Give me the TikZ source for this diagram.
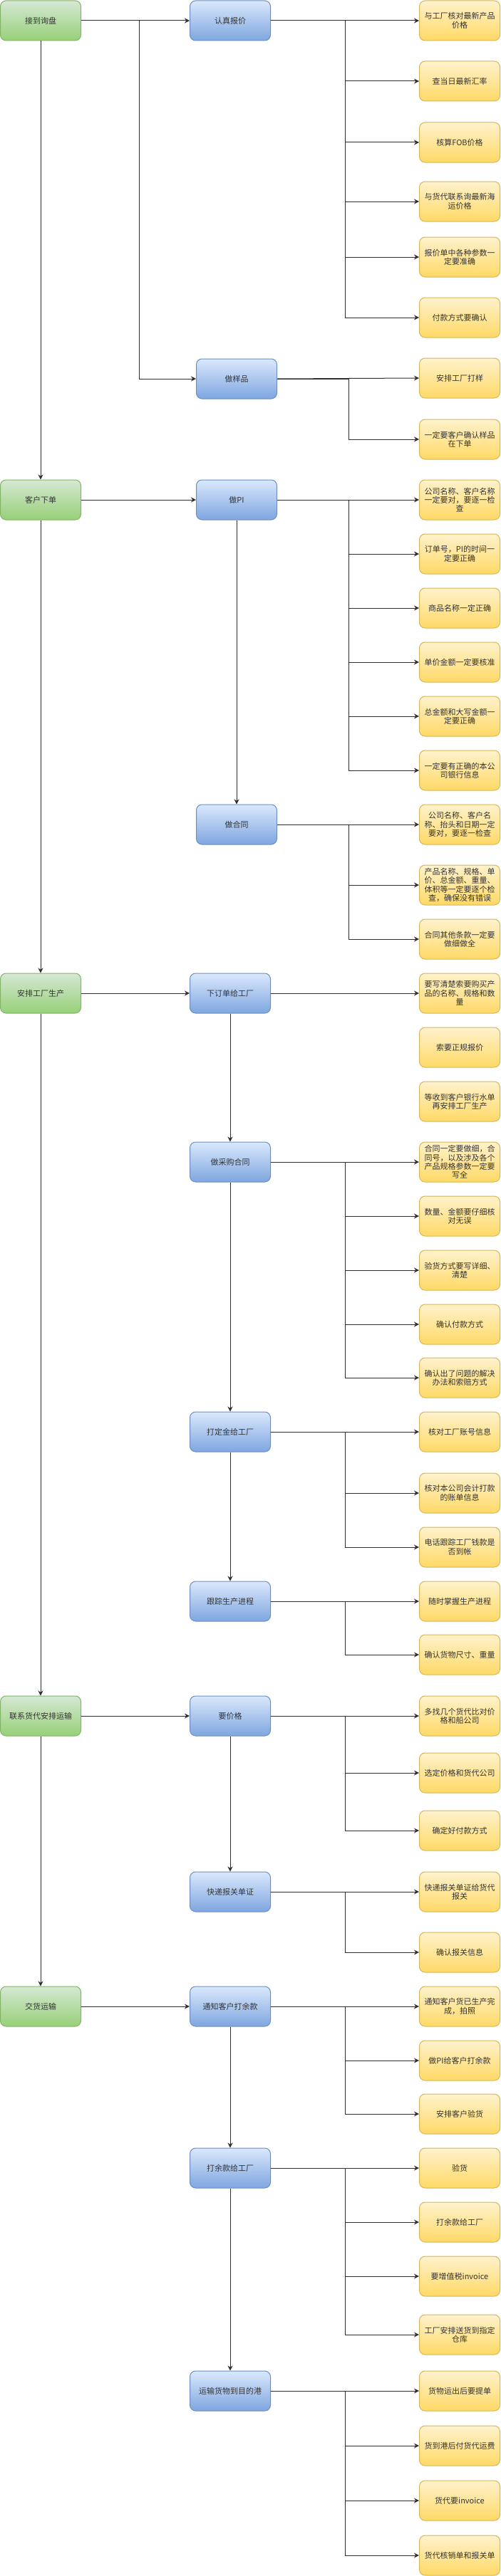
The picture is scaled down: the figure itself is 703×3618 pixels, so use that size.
\documentclass[tikz,border=0pt]{standalone}
\usepackage{fontspec}
\setmainfont{Noto Sans CJK SC}
\usetikzlibrary{arrows.meta}
\definecolor{wfink}{HTML}{333333}
\definecolor{wfline}{HTML}{2E2E2E}
\definecolor{wfgreentop}{HTML}{D5E8D4}
\definecolor{wfgreenbot}{HTML}{97D077}
\definecolor{wfgreenrim}{HTML}{82B366}
\definecolor{wfbluetop}{HTML}{DAE8FC}
\definecolor{wfbluebot}{HTML}{7EA6E0}
\definecolor{wfbluerim}{HTML}{6C8EBF}
\definecolor{wfyellowtop}{HTML}{FFF2CC}
\definecolor{wfyellowbot}{HTML}{FFD966}
\definecolor{wfyellowrim}{HTML}{D6B656}
\tikzset{
  wf box/.style={line width=1pt, rounded corners=8pt, minimum width=113pt,
    minimum height=56pt, inner sep=2pt, align=center, text=wfink,
    font=\fontsize{11}{12.4}\selectfont},
  wf stage/.style={wf box, draw=wfgreenrim, top color=wfgreentop, bottom color=wfgreenbot},
  wf task/.style={wf box, draw=wfbluerim, top color=wfbluetop, bottom color=wfbluebot},
  wf check/.style={wf box, draw=wfyellowrim, top color=wfyellowtop, bottom color=wfyellowbot},
  wf arrow/.style={-{Stealth[length=7pt,width=7pt]}, line width=1pt, draw=wfline}
}

\begin{document}
\begin{tikzpicture}[x=1pt, y=-1pt]
  \useasboundingbox (0,0) rectangle (703,3618);
  \coordinate (tG) at (195,0);
  \coordinate (tA) at (484,0);
  \coordinate (tB) at (489,0);

  \node[wf stage] (g1) at (57,29) {接到询盘};
  \node[wf stage] (g2) at (57,702) {客户下单};
  \node[wf stage] (g3) at (57,1395) {安排工厂生产};
  \node[wf stage] (g4) at (57,2410) {联系货代安排运输};
  \node[wf stage] (g5) at (57,2818) {交货运输};

  \node[wf task] (b1) at (323,29) {认真报价};
  \node[wf task] (b2) at (332,532) {做样品};
  \node[wf task] (b3) at (332,702) {做PI};
  \node[wf task] (b4) at (332,1158) {做合同};
  \node[wf task] (b5) at (323,1395) {下订单给工厂};
  \node[wf task] (b6) at (323,1632) {做采购合同};
  \node[wf task] (b7) at (323,2011) {打定金给工厂};
  \node[wf task] (b8) at (323,2249) {跟踪生产进程};
  \node[wf task] (b9) at (323,2410) {要价格};
  \node[wf task] (b10) at (323,2657) {快递报关单证};
  \node[wf task] (b11) at (323,2818) {通知客户打余款};
  \node[wf task] (b12) at (323,3045) {打余款给工厂};
  \node[wf task] (b13) at (323,3358) {运输货物到目的港};

  \foreach \n/\y/\t in {
    1/29/{与工厂核对最新产品\\价格},
    2/114/{查当日最新汇率},
    3/200/{核算FOB价格},
    4/283/{与货代联系询最新海\\运价格},
    5/361/{报价单中各种参数一\\定要准确},
    6/446/{付款方式要确认},
    7/531/{安排工厂打样},
    8/617/{一定要客户确认样品\\在下单},
    9/702/{公司名称、客户名称\\一定要对，要逐一检\\查},
    10/778/{订单号，PI的时间一\\定要正确},
    11/854/{商品名称一定正确},
    12/930/{单价金额一定要核准},
    13/1006/{总金额和大写金额一\\定要正确},
    14/1082/{一定要有正确的本公\\司银行信息},
    15/1158/{公司名称、客户名\\称、抬头和日期一定\\要对，要逐一检查},
    16/1243/{产品名称、规格、单\\价、总金额、重量、\\体积等一定要逐个检\\查，确保没有错误},
    17/1319/{合同其他条款一定要\\做细做全},
    18/1395/{要写清楚索要购买产\\品的名称、规格和数\\量},
    19/1471/{索要正规报价},
    20/1547/{等收到客户银行水单\\再安排工厂生产},
    21/1632/{合同一定要做细，合\\同号，以及涉及各个\\产品规格参数一定要\\写全},
    22/1708/{数量、金额要仔细核\\对无误},
    23/1784/{验货方式要写详细、\\清楚},
    24/1860/{确认付款方式},
    25/1935/{确认出了问题的解决\\办法和索赔方式},
    26/2011/{核对工厂账号信息},
    27/2097/{核对本公司会计打款\\的账单信息},
    28/2173/{电话跟踪工厂钱款是\\否到帐},
    29/2249/{随时掌握生产进程},
    30/2324/{确认货物尺寸、重量},
    31/2410/{多找几个货代比对价\\格和船公司},
    32/2490/{选定价格和货代公司},
    33/2571/{确定好付款方式},
    34/2657/{快递报关单证给货代\\报关},
    35/2742/{确认报关信息},
    36/2818/{通知客户货已生产完\\成，拍照},
    37/2894/{做PI给客户打余款},
    38/2969/{安排客户验货},
    39/3045/{验货},
    40/3121/{打余款给工厂},
    41/3197/{要增值税invoice},
    42/3279/{工厂安排送货到指定\\仓库},
    43/3358/{货物运出后要提单},
    44/3435/{货到港后付货代运费},
    45/3512/{货代要invoice},
    46/3589/{货代核销单和报关单}} {
    \node[wf check] (y\n) at (645,\y) {\t};
  }

  \draw[wf arrow] (g1) -- (g2);
  \draw[wf arrow] (g2) -- (g3);
  \draw[wf arrow] (g3) -- (g4);
  \draw[wf arrow] (g4) -- (g5);
  \draw[wf arrow] (g1) -- (b1);
  \draw[wf arrow] (g1.east) -- (g1.east -| tG) |- (b2.west);
  \draw[wf arrow] (g2) -- (b3);
  \draw[wf arrow] (g3) -- (b5);
  \draw[wf arrow] (g4) -- (b9);
  \draw[wf arrow] (g5) -- (b11);

  \draw[wf arrow] (b3) -- (b4);
  \draw[wf arrow] (b5) -- (b6);
  \draw[wf arrow] (b6) -- (b7);
  \draw[wf arrow] (b7) -- (b8);
  \draw[wf arrow] (b9) -- (b10);
  \draw[wf arrow] (b11) -- (b12);
  \draw[wf arrow] (b12) -- (b13);

  \draw[wf arrow] (b5.east) -- (y18.west);
  \foreach \b/\f/\l/\t in {b1/1/6/tA, b2/7/8/tB, b3/9/14/tB, b4/15/17/tB,
      b6/21/25/tA, b7/26/28/tA, b8/29/30/tA, b9/31/33/tA, b10/34/35/tA,
      b11/36/38/tA, b12/39/42/tA, b13/43/46/tA} {
    \draw[wf arrow] (\b.east) -- (y\f.west);
    \pgfmathtruncatemacro\s{\f+1}
    \foreach \k in {\s,...,\l}
      \draw[wf arrow] (\b.east) -- (\b.east -| \t) |- (y\k.west);
  }
\end{tikzpicture}
\end{document}
